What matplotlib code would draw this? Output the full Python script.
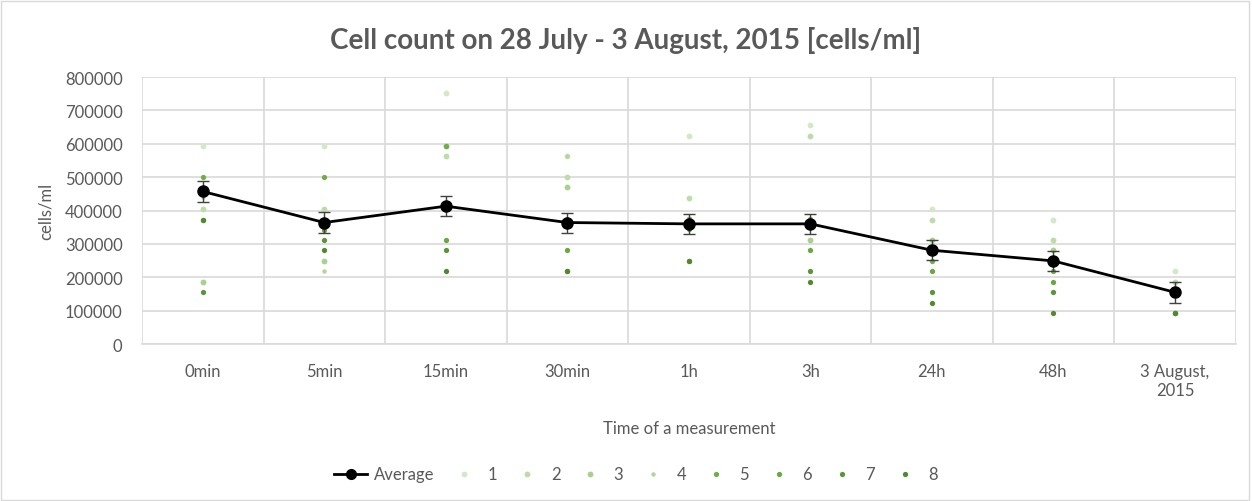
import numpy as np
import matplotlib.pyplot as plt
from matplotlib.lines import Line2D
from matplotlib.patches import Rectangle

plt.rcParams['font.family'] = ['Lato', 'DejaVu Sans']

# categories and values
categories = ["0min", "5min", "15min", "30min", "1h", "3h", "24h", "48h", "3 August,\n2015"]
average = [457000, 364000, 413000, 364000, 360000, 360000, 281000, 249000, 155000]
average_err = [31000, 31000, 30000, 30000, 31000, 31000, 30000, 31000, 31000]

s1 = [592000, 592000, 751000, 564000, 624000, 656000, 406000, 373000, 218000]
s2 = [406000, 406000, 564000, 501000, 439000, 624000, 373000, 312000, 187000]
s3 = [187000, 249000, 592000, 469000, 376000, 312000, 311000, 281000, 155000]
s4 = [440000, 218000, 312000, 564000, 344000, 374000, 281000, 249000, 155000]
s5 = [500000, 500000, 592000, 374000, 376000, 374000, 249000, 218000, 155000]
s6 = [373000, 341000, 312000, 281000, 344000, 281000, 218000, 187000, 93000]
s7 = [155000, 312000, 281000, 218000, 249000, 218000, 155000, 155000, 93000]
s8 = [373000, 281000, 218000, 218000, 249000, 187000, 123000, 93000, 93000]

series = [s1, s2, s3, s4, s5, s6, s7, s8]
series_names = ["1", "2", "3", "4", "5", "6", "7", "8"]
series_colors = ["#d3e8c7", "#bcdcaa", "#a9d18e", "#b3d39f",
                 "#70ad47", "#6aa842", "#5a9638", "#4f8a2f"]
series_sizes = [4.2, 4.2, 4.2, 3.2, 3.8, 3.8, 3.8, 3.8]

text_color = "#595959"
grid_color = "#d9d9d9"

fig = plt.figure(figsize=(12.52, 5.02), dpi=100)
ax = fig.add_axes([0.1134, 0.3127, 0.8736, 0.5319])

x = np.arange(len(categories))

handles = []
for vals, name, col, ms in zip(series, series_names, series_colors, series_sizes):
    h, = ax.plot(x, vals, linestyle="none", marker="o", markersize=ms,
                 color=col, markeredgewidth=0, label=name, zorder=3)
    handles.append(h)

ax.errorbar(x, average, yerr=average_err, color="black", linewidth=2,
            marker="o", markersize=8, ecolor="#404040", elinewidth=1,
            capsize=4, capthick=1, zorder=4)
avg_handle = Line2D([], [], color="black", linewidth=2, marker="o", markersize=7)

ax.set_xlim(-0.5, len(categories) - 0.5)
ax.set_ylim(0, 800000)
ax.set_yticks(np.arange(0, 800001, 100000))
ax.set_xticks(x)
ax.set_xticklabels(categories)

# vertical lines between categories
ax.set_xticks(np.arange(-0.5, len(categories)), minor=True)
ax.grid(True, which="minor", axis="x", color=grid_color, linewidth=1.2)
ax.grid(True, which="major", axis="y", color=grid_color, linewidth=1.2)
ax.set_axisbelow(True)

for side in ["top", "right", "left"]:
    ax.spines[side].set_visible(False)
ax.spines["bottom"].set_color(grid_color)
ax.spines["bottom"].set_linewidth(1.2)

ax.tick_params(which="both", length=0)
ax.tick_params(axis="y", labelsize=12, labelcolor=text_color, pad=14)
ax.tick_params(axis="x", labelsize=12, labelcolor=text_color, pad=14)
ax.ticklabel_format(axis="y", style="plain")

ax.set_ylabel("cells/ml", fontsize=12, color=text_color, labelpad=8)
ax.set_xlabel("Time of a measurement", fontsize=12, color=text_color, labelpad=16)

fig.text(0.5, 0.92, "Cell count on 28 July - 3 August, 2015 [cells/ml]",
         ha="center", va="center", fontsize=20, fontweight="bold", color=text_color)

fig.legend([avg_handle] + handles, ["Average"] + series_names,
           loc="center", bbox_to_anchor=(0.508, 0.053), ncol=9,
           frameon=False, fontsize=12, labelcolor=text_color,
           handlelength=2.0, columnspacing=0.8, handletextpad=0.4)

# chart border
fig.patches.append(Rectangle((0.001, 0.002), 0.997, 0.995, transform=fig.transFigure,
                             fill=False, edgecolor=grid_color, linewidth=1))

fig.savefig("out.png", dpi=100)
